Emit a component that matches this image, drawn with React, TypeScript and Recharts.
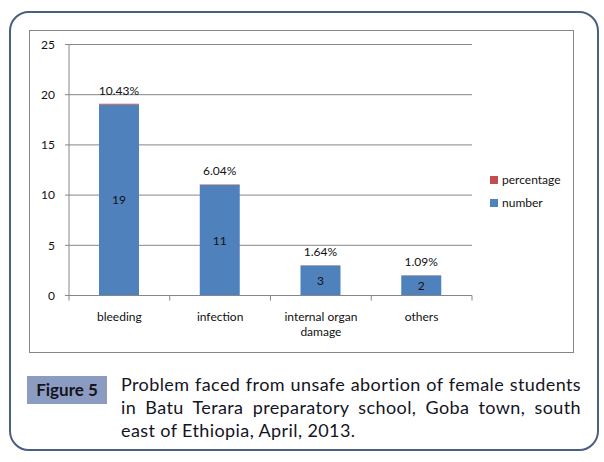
import { BarChart, Bar, XAxis, YAxis, CartesianGrid, LabelList } from 'recharts';

// categories and values
const categories = ['bleeding', 'infection', 'internal organ damage', 'others'];
const numbers = [19, 11, 3, 2];
const percentages = [0.1043, 0.0604, 0.0164, 0.0109];
const yTicks = [0, 5, 10, 15, 20, 25];
const seriesNames = ['number', 'percentage'];

const NUMBER_COLOR = '#4F81BD';
const PCT_COLOR = '#C0504D';
const GRID = '#868686';
const FONT = 'Lato, "Noto Sans", sans-serif';

const CHART_W = 545;
const CHART_H = 323;
const MARGIN = { top: 14.5, right: 102, left: 0, bottom: 17.5 };
const Y_AXIS_W = 40;
const PLOT_W = CHART_W - MARGIN.left - MARGIN.right - Y_AXIS_W;

const data = categories.map((c, i) => ({
  category: c,
  number: numbers[i],
  percentage: percentages[i],
}));

const fmtPct = (v: number) => `${(v * 100).toFixed(2)}%`;

// wrap long category names over two lines, like Excel does
const wrap = (s: string, max = 14) => {
  const lines: string[] = [];
  let cur = '';
  for (const w of s.split(' ')) {
    if (cur && (cur + ' ' + w).length > max) {
      lines.push(cur);
      cur = w;
    } else cur = cur ? cur + ' ' + w : w;
  }
  if (cur) lines.push(cur);
  return lines;
};

const CategoryTick = (props: any) => {
  const { x, y, payload, index } = props;
  const band = PLOT_W / categories.length;
  const lines = wrap(String(payload.value));
  return (
    <g>
      <line x1={x - band / 2} x2={x - band / 2} y1={y} y2={y + 5} stroke={GRID} />
      {index === categories.length - 1 && (
        <line x1={x + band / 2} x2={x + band / 2} y1={y} y2={y + 5} stroke={GRID} />
      )}
      {lines.map((l, i) => (
        <text key={i} x={x} y={y + 25 + i * 15} textAnchor="middle" fill="#111" fontSize={12}>
          {l}
        </text>
      ))}
    </g>
  );
};

export default function App() {
  return (
    <div style={{ position: 'absolute', left: 0, top: 0, width: 604, height: 462, background: '#fff', fontFamily: FONT }}>
      {/* outer rounded frame */}
      <div
        style={{
          position: 'absolute', left: 9, top: 11, width: 590, height: 440,
          boxSizing: 'border-box', border: '2px solid #4b5f80', borderRadius: 20,
        }}
      />
      {/* chart area frame */}
      <div
        style={{
          position: 'absolute', left: 29, top: 30, width: CHART_W, height: CHART_H,
          boxSizing: 'border-box', border: `1px solid ${GRID}`,
        }}
      />
      <div style={{ position: 'absolute', left: 29, top: 30 }}>
        <BarChart width={CHART_W} height={CHART_H} data={data} margin={MARGIN} barSize={40}>
          <CartesianGrid vertical={false} stroke={GRID} />
          <XAxis
            dataKey="category"
            interval={0}
            height={40}
            tickLine={false}
            tickSize={0}
            tickMargin={0}
            axisLine={{ stroke: GRID }}
            tick={<CategoryTick />}
          />
          <YAxis
            width={Y_AXIS_W}
            domain={[0, 25]}
            ticks={yTicks}
            tickSize={4}
            tickMargin={10}
            axisLine={{ stroke: GRID }}
            tickLine={{ stroke: GRID }}
            tick={{ fill: '#111', fontSize: 12 }}
          />
          <Bar dataKey="number" stackId="a" fill={NUMBER_COLOR} isAnimationActive={false}>
            <LabelList dataKey="number" position="center" fill="#111" fontSize={12} />
          </Bar>
          <Bar dataKey="percentage" stackId="a" fill={PCT_COLOR} isAnimationActive={false}>
            <LabelList dataKey="percentage" position="top" offset={9} fill="#111" fontSize={12} formatter={(v: any) => fmtPct(Number(v))} />
          </Bar>
        </BarChart>
      </div>
      {/* legend, Excel order: last series on top */}
      <div style={{ position: 'absolute', left: 490, top: 168, fontSize: 12, color: '#111' }}>
        {[...seriesNames].reverse().map((n) => (
          <div key={n} style={{ display: 'flex', alignItems: 'center', height: 23 }}>
            <span style={{ width: 8, height: 8, marginRight: 4, background: n === 'number' ? NUMBER_COLOR : PCT_COLOR }} />
            {n}
          </div>
        ))}
      </div>
      {/* caption */}
      <div
        style={{
          position: 'absolute', left: 27, top: 376, width: 80, height: 28, background: '#8b9cc0',
          color: '#14141e', fontWeight: 700, fontSize: 17, lineHeight: '28px', textAlign: 'center',
        }}
      >
        Figure 5
      </div>
      <div
        style={{
          position: 'absolute', left: 121, top: 373, width: 460, fontSize: 18, lineHeight: '23px',
          letterSpacing: 0.4, color: '#14141e', textAlign: 'justify',
        }}
      >
        Problem faced from unsafe abortion of female students in Batu Terara preparatory school, Goba town, south east of Ethiopia, April, 2013.
      </div>
    </div>
  );
}
